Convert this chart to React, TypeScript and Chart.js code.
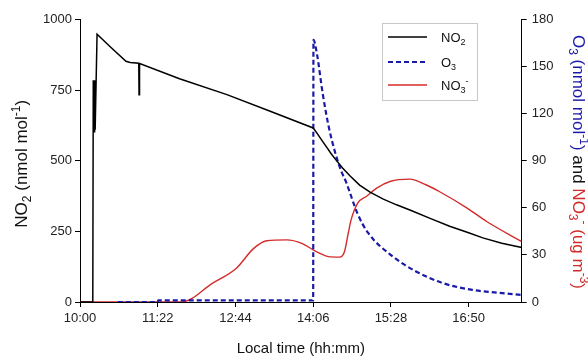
import React, { useEffect, useRef } from "react";
import { Chart, registerables } from "chart.js";

Chart.register(...registerables);

// Time in minutes after 10:00
const xTickMinutes = [0, 82, 164, 246, 328, 410];
const leftTicks = [0, 250, 500, 750, 1000];
const rightTicks = [0, 30, 60, 90, 120, 150, 180];

const no2Times = [0, 13.5, 14, 14.4, 14.8, 15.2, 15.6, 16, 18, 33, 48.5, 53, 62, 62.3, 62.6, 63, 105, 155, 200, 246, 250, 255, 260, 265, 270, 277, 285, 295, 306, 320, 334, 350, 370, 390, 410, 425, 445, 466];
const no2Values = [0, 0, 785, 600, 785, 600, 785, 610, 948, 900, 852, 848, 845, 734, 845, 844, 790, 734, 676, 616, 598, 573, 549, 525, 503, 474, 446, 414, 389, 364, 344, 323, 295, 268, 245, 227, 208, 193];

const o3Times = [40, 82, 82.5, 246, 246.3, 250, 256, 263, 274, 281, 293, 304, 330, 355, 383, 414, 440, 466];
const o3Values = [0, 0, 1, 1, 167, 158, 133, 110, 86, 76, 56, 44, 29, 19.3, 12, 7.7, 6, 4.5];

const no3Times = [0, 107, 140, 165, 183, 197, 218, 234, 246, 253, 262, 274, 279, 283, 286, 293, 302, 313, 327, 348, 365, 379, 408, 429, 466];
const no3Values = [0, 0, 12, 21.5, 34, 39, 39.6, 37.4, 33.2, 31, 28.9, 28.6, 32, 43.8, 52.3, 63, 67.2, 72.6, 76.8, 78.3, 74.7, 70.4, 60, 51.3, 38.5];

const FONT = '"Liberation Sans", Arial, sans-serif';
const BLUE = "#1a1aa8";
const RED = "#d42b2b";

type Seg = { t: string; c: string; s?: "sub" | "sup" };

function drawRich(ctx: CanvasRenderingContext2D, segs: Seg[], x: number, y: number, angle: number, size: number) {
  ctx.save();
  ctx.translate(x, y);
  ctx.rotate(angle);
  const small = Math.round(size * 0.68);
  let total = 0;
  const widths = segs.map((sg) => {
    ctx.font = `${sg.s ? small : size}px ${FONT}`;
    const w = ctx.measureText(sg.t).width;
    total += w;
    return w;
  });
  let cx = -total / 2;
  const base = size * 0.36;
  ctx.textBaseline = "alphabetic";
  ctx.textAlign = "left";
  segs.forEach((sg, i) => {
    ctx.font = `${sg.s ? small : size}px ${FONT}`;
    ctx.fillStyle = sg.c;
    let dy = base;
    if (sg.s === "sub") dy = base + size * 0.22;
    if (sg.s === "sup") dy = base - size * 0.42;
    ctx.fillText(sg.t, cx, dy);
    cx += widths[i];
  });
  ctx.restore();
}

const decorPlugin = {
  id: "decor",
  afterDraw(chart: any) {
    const ctx: CanvasRenderingContext2D = chart.ctx;
    const area = chart.chartArea;
    // Left title
    drawRich(
      ctx,
      [
        { t: "NO", c: "#111" },
        { t: "2", c: "#111", s: "sub" },
        { t: " (nmol mol", c: "#111" },
        { t: "-1", c: "#111", s: "sup" },
        { t: ")", c: "#111" },
      ],
      21,
      (area.top + area.bottom) / 2 + 3,
      -Math.PI / 2,
      17
    );
    // Right title
    drawRich(
      ctx,
      [
        { t: "O", c: BLUE },
        { t: "3", c: BLUE, s: "sub" },
        { t: " (nmol mol", c: BLUE },
        { t: "-1", c: BLUE, s: "sup" },
        { t: ")", c: BLUE },
        { t: " and ", c: "#111" },
        { t: "NO", c: RED },
        { t: "3", c: RED, s: "sub" },
        { t: "-", c: RED, s: "sup" },
        { t: " (ug m", c: RED },
        { t: "-3", c: RED, s: "sup" },
        { t: ")", c: RED },
      ],
      579,
      162,
      Math.PI / 2,
      17
    );
    // X title
    ctx.save();
    ctx.font = `15px ${FONT}`;
    ctx.fillStyle = "#111";
    ctx.textAlign = "center";
    ctx.textBaseline = "middle";
    ctx.fillText("Local time (hh:mm)", (area.left + area.right) / 2, 349);
    ctx.restore();

    // Legend
    ctx.save();
    const bx = 382.5, by = 23.5, bw = 95, bh = 77;
    ctx.fillStyle = "#fff";
    ctx.fillRect(bx, by, bw, bh);
    ctx.strokeStyle = "#c8c8c8";
    ctx.lineWidth = 1;
    ctx.strokeRect(bx, by, bw, bh);
    const items = [
      { y: 37, color: "#000", dash: [] as number[], w: 1.5, segs: [{ t: "NO", c: "#111" }, { t: "2", c: "#111", s: "sub" }] as Seg[] },
      { y: 62, color: BLUE, dash: [5, 3], w: 2.2, segs: [{ t: "O", c: "#111" }, { t: "3", c: "#111", s: "sub" }] as Seg[] },
      { y: 85, color: RED, dash: [] as number[], w: 1.5, segs: [{ t: "NO", c: "#111" }, { t: "3", c: "#111", s: "sub" }, { t: "-", c: "#111", s: "sup" }] as Seg[] },
    ];
    items.forEach((it) => {
      ctx.beginPath();
      ctx.setLineDash(it.dash);
      ctx.strokeStyle = it.color;
      ctx.lineWidth = it.w;
      ctx.moveTo(388, it.y);
      ctx.lineTo(427, it.y);
      ctx.stroke();
      ctx.setLineDash([]);
      const size = 13;
      let cx = 441;
      it.segs.forEach((sg) => {
        const fs = sg.s ? 9 : size;
        ctx.font = `${fs}px ${FONT}`;
        ctx.fillStyle = sg.c;
        ctx.textBaseline = "alphabetic";
        ctx.textAlign = "left";
        let dy = it.y + 5;
        if (sg.s === "sub") dy += 3;
        if (sg.s === "sup") dy -= 6;
        ctx.fillText(sg.t, cx, dy);
        cx += ctx.measureText(sg.t).width;
      });
    });
    ctx.restore();
  },
};

function zip(xs: number[], ys: number[]) {
  return xs.map((x, i) => ({ x, y: ys[i] }));
}

function fmtTime(m: number) {
  const total = 600 + m;
  const h = Math.floor(total / 60);
  const mm = Math.round(total % 60);
  return `${h}:${mm < 10 ? "0" : ""}${mm}`;
}

const tickFont = { family: FONT, size: 13 };

export default function App() {
  const ref = useRef<HTMLCanvasElement | null>(null);
  useEffect(() => {
    if (!ref.current) return;
    const gridOpts = {
      display: true,
      drawOnChartArea: false,
      drawTicks: true,
      tickLength: 5,
      color: "#000",
      tickColor: "#000",
    };
    const chart = new Chart(ref.current, {
      type: "line",
      data: {
        datasets: [
          {
            label: "NO2",
            data: zip(no2Times, no2Values),
            borderColor: "#000",
            borderWidth: 1.5,
            pointRadius: 0,
            tension: 0,
            yAxisID: "y",
          },
          {
            label: "O3",
            data: zip(o3Times, o3Values),
            borderColor: BLUE,
            borderWidth: 2.2,
            borderDash: [5, 3],
            pointRadius: 0,
            cubicInterpolationMode: "monotone",
            yAxisID: "y1",
          },
          {
            label: "NO3-",
            data: zip(no3Times, no3Values),
            borderColor: RED,
            borderWidth: 1.4,
            pointRadius: 0,
            cubicInterpolationMode: "monotone",
            yAxisID: "y1",
          },
        ],
      },
      options: {
        animation: false,
        responsive: false,
        layout: { padding: { top: 19.5, left: 0, right: 0, bottom: 0 } },
        plugins: { legend: { display: false }, tooltip: { enabled: false } },
        scales: {
          x: {
            type: "linear",
            min: 0,
            max: 466,
            grid: gridOpts,
            border: { display: true, color: "#000", width: 1 },
            afterBuildTicks: (axis: any) => {
              axis.ticks = xTickMinutes.map((v) => ({ value: v }));
            },
            afterFit: (axis: any) => {
              axis.height = 58;
            },
            ticks: {
              font: tickFont,
              color: "#222",
              padding: 4,
              maxRotation: 0,
              autoSkip: false,
              callback: (v: any) => fmtTime(Number(v)),
            },
          },
          y: {
            type: "linear",
            position: "left",
            min: 0,
            max: 1000,
            grid: gridOpts,
            border: { display: true, color: "#000", width: 1 },
            afterBuildTicks: (axis: any) => {
              axis.ticks = leftTicks.map((v) => ({ value: v }));
            },
            afterFit: (axis: any) => {
              axis.width = 80;
            },
            ticks: { font: tickFont, color: "#222", padding: 3, callback: (v: any) => String(v) },
          },
          y1: {
            type: "linear",
            position: "right",
            min: 0,
            max: 180,
            grid: gridOpts,
            border: { display: true, color: "#000", width: 1 },
            afterBuildTicks: (axis: any) => {
              axis.ticks = rightTicks.map((v) => ({ value: v }));
            },
            afterFit: (axis: any) => {
              axis.width = 66.3;
            },
            ticks: { font: tickFont, color: "#222", padding: 5, callback: (v: any) => String(v) },
          },
        },
      },
      plugins: [decorPlugin],
    } as any);
    return () => chart.destroy();
  }, []);
  return (
    <div style={{ position: "absolute", left: 0, top: 0, width: 588, height: 360, background: "#fff" }}>
      <canvas ref={ref} width={588} height={360} />
    </div>
  );
}
